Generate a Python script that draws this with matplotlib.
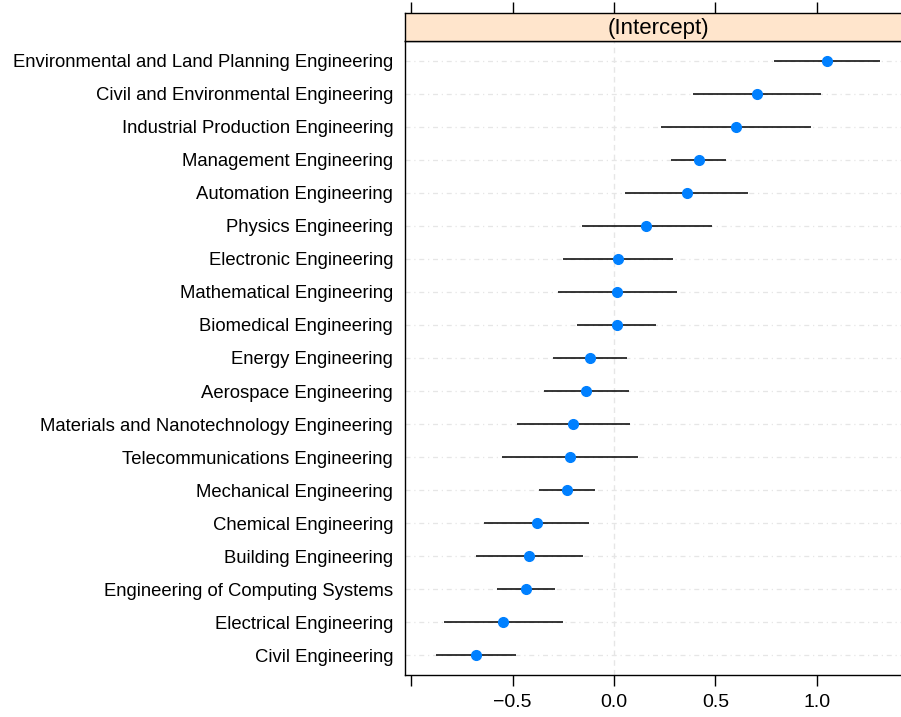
import numpy as np
import matplotlib

matplotlib.use("Agg")
import matplotlib.pyplot as plt  # noqa: E402
from matplotlib.patches import Rectangle  # noqa: E402

plt.rcParams["font.family"] = ["Liberation Sans", "DejaVu Sans"]

# top to bottom as drawn
programmes = [
    "Environmental and Land Planning Engineering",
    "Civil and Environmental Engineering",
    "Industrial Production Engineering",
    "Management Engineering",
    "Automation Engineering",
    "Physics Engineering",
    "Electronic Engineering",
    "Mathematical Engineering",
    "Biomedical Engineering",
    "Energy Engineering",
    "Aerospace Engineering",
    "Materials and Nanotechnology Engineering",
    "Telecommunications Engineering",
    "Mechanical Engineering",
    "Chemical Engineering",
    "Building Engineering",
    "Engineering of Computing Systems",
    "Electrical Engineering",
    "Civil Engineering",
]
estimate = [1.05, 0.705, 0.60, 0.417, 0.36, 0.16, 0.02, 0.016, 0.013, -0.12,
            -0.138, -0.202, -0.218, -0.231, -0.381, -0.419, -0.432, -0.545, -0.678]
lower = [0.79, 0.39, 0.23, 0.28, 0.056, -0.16, -0.25, -0.274, -0.18, -0.30,
         -0.345, -0.48, -0.553, -0.371, -0.639, -0.681, -0.575, -0.839, -0.877]
upper = [1.31, 1.02, 0.97, 0.55, 0.66, 0.485, 0.29, 0.31, 0.207, 0.064,
         0.072, 0.079, 0.117, -0.092, -0.123, -0.153, -0.289, -0.25, -0.481]
x_ticks = [-1.0, -0.5, 0.0, 0.5, 1.0]
x_ticklabels = ["", "\u22120.5", "0.0", "0.5", "1.0"]
strip_title = "(Intercept)"

W, H = 901, 717
fig = plt.figure(figsize=(W / 100, H / 100), dpi=100)

left, right = 405 / W, 911 / W
bottom, top = 1 - 675 / H, 1 - 41 / H
ax = fig.add_axes([left, bottom, right - left, top - bottom])

n = len(programmes)
y = np.arange(n)[::-1]

for yi in y:
    ax.axhline(yi, color="#e6e6e6", lw=0.9, ls=(0, (4, 3, 1, 3)), zorder=0)
ax.axvline(0.0, color="#e6e6e6", lw=1.0, ls=(0, (4, 3)), zorder=0)

ax.hlines(y, lower, upper, color="black", lw=1.1, zorder=2)
ax.plot(estimate, y, "o", color="#0080ff", ms=7, mec="#0080ff", zorder=3)

ax.set_xlim(-1.03, 1.464)
ax.set_ylim(-0.6, n - 0.4)
ax.set_yticks(y)
ax.set_yticklabels(programmes, fontsize=13.3)
ax.tick_params(axis="y", length=0, pad=8.5)
ax.set_xticks(x_ticks)
ax.set_xticklabels(x_ticklabels, fontsize=14)
ax.tick_params(axis="x", length=8, width=1, direction="out", pad=6,
               top=False, labeltop=False)
for s in ax.spines.values():
    s.set_linewidth(1.0)

# strip on top of the panel
strip_h = 28 / H
sax = fig.add_axes([left, top, right - left, strip_h])
sax.add_patch(Rectangle((0, 0), 1, 1, transform=sax.transAxes,
                        facecolor="#ffe5cc", edgecolor="none"))
sax.text(0.5, 0.45, strip_title, ha="center", va="center", fontsize=16,
         transform=sax.transAxes)
sax.set_xlim(-1.03, 1.464)
sax.set_xticks(x_ticks)
sax.set_xticklabels([])
sax.set_yticks([])
sax.tick_params(axis="x", length=8, width=1, direction="out",
                bottom=False, top=True, labeltop=False, labelbottom=False)
for s in sax.spines.values():
    s.set_linewidth(1.0)

fig.savefig("out.png", dpi=100)
plt.close(fig)
